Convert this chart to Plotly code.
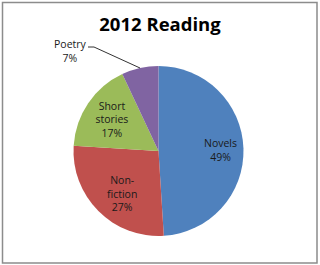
import plotly.graph_objects as go

categories = ["Novels", "Non-fiction", "Short stories", "Poetry"]
label_text = ["Novels", "Non-<br>fiction", "Short<br>stories", "Poetry"]
values = [49, 27, 17, 7]
colors = ["#4F81BD", "#C0504D", "#9BBB59", "#8064A2"]

W, H = 320, 265
cx, cy, r = 158.5, 151, 85
FONT = "Open Sans, Liberation Sans, sans-serif"

fig = go.Figure(go.Pie(
    labels=categories,
    values=values,
    text=label_text,
    texttemplate=["", "", "%{text}<br>%{percent:.0%}", ""],
    textposition=["none", "none", "inside", "none"],
    insidetextorientation="horizontal",
    sort=False,
    direction="clockwise",
    rotation=0,
    marker=dict(colors=colors, line=dict(color="white", width=0)),
    textfont=dict(family=FONT, size=10.5, color="#1a1a1a"),
    domain=dict(x=[(cx - r) / W, (cx + r) / W], y=[1 - (cy + r) / H, 1 - (cy - r) / H]),
    hoverinfo="label+percent",
    showlegend=False,
))

total = sum(values)
label_pos = {0: (220, 150), 1: (122, 193), 3: (70, 51)}
for i, (px, py) in label_pos.items():
    fig.add_annotation(
        x=px / W, y=1 - py / H, xref="paper", yref="paper", xanchor="center", yanchor="middle",
        text=f"{label_text[i]}<br>{round(values[i] / total * 100)}%", showarrow=False,
        font=dict(family=FONT, size=10.5, color="#1a1a1a"), align="center",
    )

# Poetry leader line
fig.add_shape(type="line", xref="paper", yref="paper",
              x0=88 / W, y0=1 - 47 / H, x1=94 / W, y1=1 - 47 / H,
              line=dict(color="#333333", width=1))
fig.add_shape(type="line", xref="paper", yref="paper",
              x0=94 / W, y0=1 - 47 / H, x1=140 / W, y1=1 - 68 / H,
              line=dict(color="#333333", width=1))

fig.add_shape(type="rect", xref="paper", yref="paper",
              x0=2.5 / W, x1=317 / W, y0=1 - 263 / H, y1=1 - 2.5 / H,
              line=dict(color="#8c8c8c", width=1.5))

fig.update_layout(
    width=W, height=H,
    margin=dict(l=0, r=0, t=0, b=0),
    paper_bgcolor="white",
    title=dict(text="<b>2012 Reading</b>", x=0.5, xanchor="center", y=1 - 25 / H, yanchor="middle",
               font=dict(family=FONT, size=18.5, color="black")),
)

fig.write_html("out.html")
